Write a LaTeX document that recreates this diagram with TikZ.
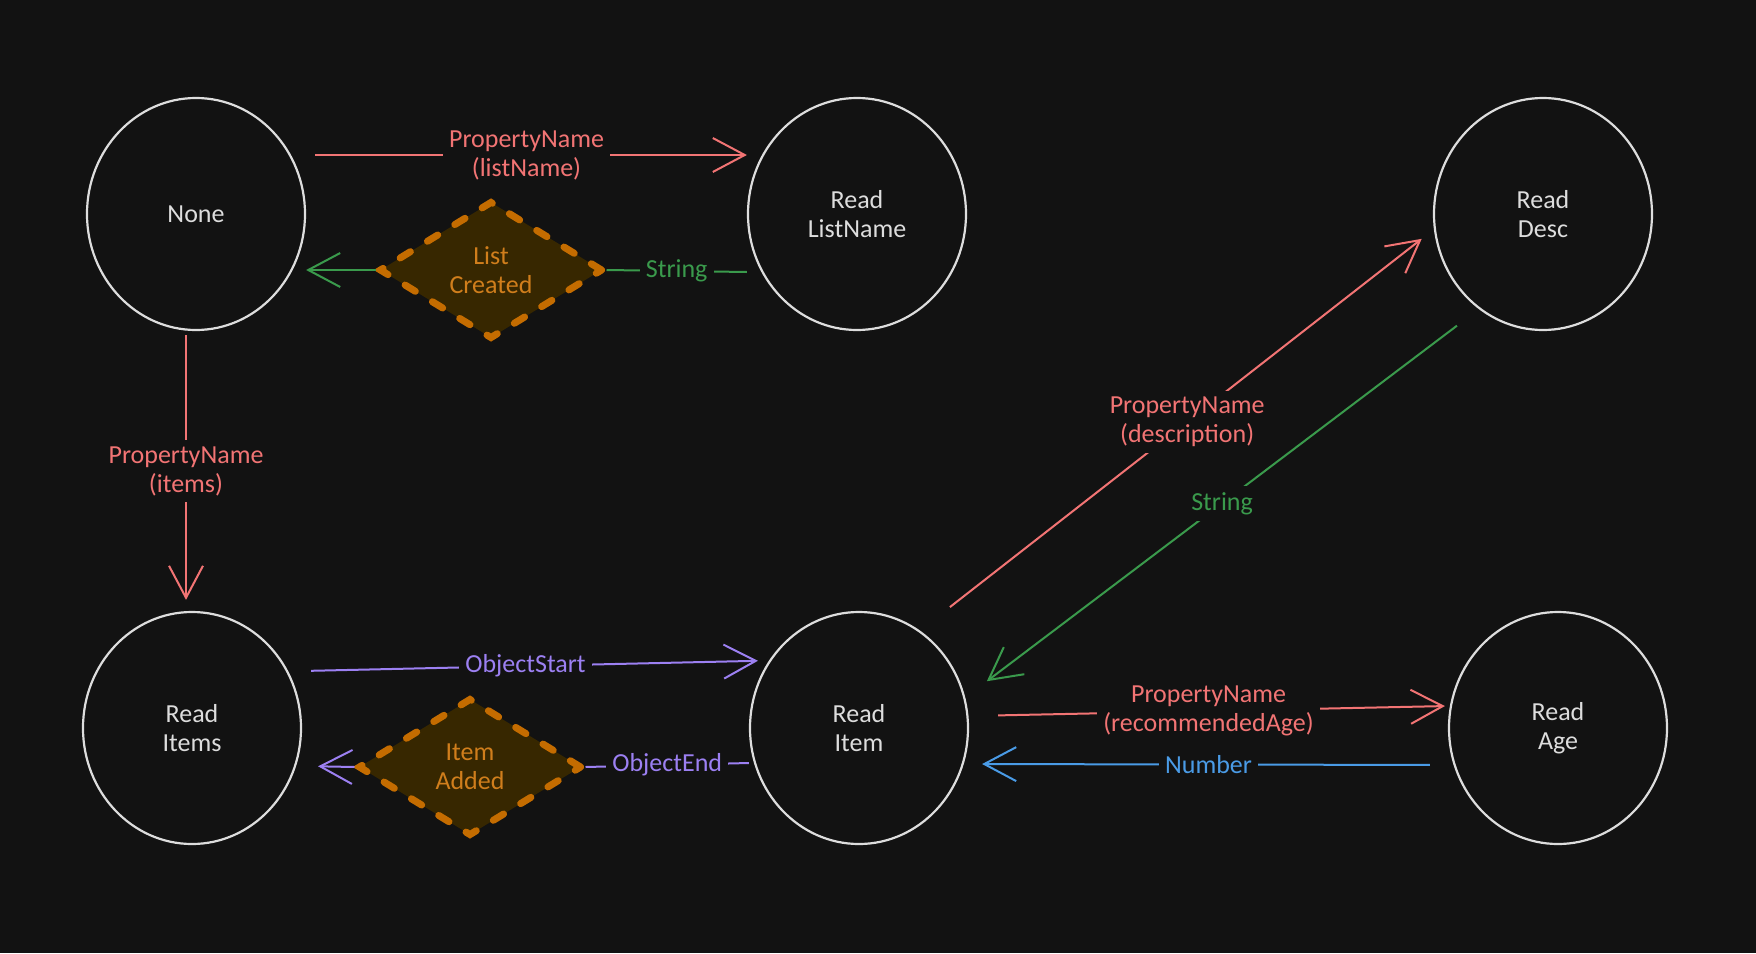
\documentclass[tikz,border=0pt]{standalone}
\usepackage{fontspec}
\setmainfont{Carlito}
\usepackage{tikz}
\usetikzlibrary{arrows.meta,shapes.geometric,positioning}

\definecolor{bg}{HTML}{121212}
\definecolor{chalk}{HTML}{DDDDDD}
\definecolor{pname}{HTML}{F27474}
\definecolor{strgreen}{HTML}{3A9A4C}
\definecolor{objpurple}{HTML}{9C80F2}
\definecolor{numblue}{HTML}{4A9BE6}
\definecolor{evline}{HTML}{C46C00}
\definecolor{evfill}{HTML}{372700}
\definecolor{evtext}{HTML}{D07E1C}

\begin{document}
\begin{tikzpicture}[x=0.5pt,y=-0.5pt,font=\fontsize{13}{14.5}\selectfont]
      \tikzstyle{state}=[ellipse,draw=chalk,line width=1.1pt,minimum width=109pt,minimum height=116pt,inner sep=0pt,text=chalk,align=center]
      \tikzstyle{event}=[diamond,draw=evline,fill=evfill,line width=3.5pt,dash pattern=on 6pt off 10pt,line cap=round,minimum width=112pt,minimum height=69pt,inner sep=0pt,text=evtext,align=center]
      \tikzstyle{lbl}=[fill=bg,inner sep=3pt,align=center]
      \tikzstyle{tr}=[line width=1pt,-{Straight Barb[length=16pt,width=17pt]}]
      \tikzstyle{seg}=[line width=1pt]

      \fill[bg] (0,0) rectangle (1756,953);
      \useasboundingbox (0,0) rectangle (1756,953);

      \node[state] (none) at (196,214) {None};
      \node[state] (listname) [node distance=330.5pt, right of=none] {Read\\ListName};
      \node[state] (desc) [node distance=343pt, right of=listname] {Read\\Desc};
      \node[state] (items) [node distance=257pt, below of=none, xshift=-2pt] {Read\\Items};
      \node[state] (item) [node distance=333.5pt, right of=items] {Read\\Item};
      \node[state] (age) [node distance=349.5pt, right of=item] {Read\\Age};
      \node[event] (listcreated) at (491,270) {List\\Created};
      \node[event] (itemadded) at (470,767) {Item\\Added};

      \draw[tr,pname,shorten <=4.5pt] ([yshift=29.5pt]none.east) -- ([yshift=29.5pt]listname.west) node[lbl,midway,text=pname]{PropertyName\\(listName)};
      \draw[seg,strgreen] ([yshift=-29pt]listname.west) -- (listcreated.east) node[lbl,midway,text=strgreen]{String};
      \draw[tr,strgreen] (listcreated.west) -- ([yshift=-28pt]none.east);
      \draw[tr,pname,shorten <=2pt,shorten >=5.5pt] ([xshift=-5pt]none.south) -- ([xshift=-3pt]items.north) node[lbl,midway,text=pname]{PropertyName\\(items)};

      \draw[tr,objpurple,shorten <=4.5pt,shorten >=-4.5pt] ([yshift=28.5pt]items.east) -- ([yshift=33.5pt]item.west) node[lbl,midway,text=objpurple]{ObjectStart};
      \draw[seg,objpurple] ([yshift=-17.5pt]item.west) -- (itemadded.east) node[lbl,midway,text=objpurple]{ObjectEnd};
      \draw[tr,objpurple,shorten >=8pt] (itemadded.west) -- ([yshift=-19pt]items.east);

      \draw[tr,pname,shorten <=19pt,shorten >=7.7pt] (item.58) -- (desc.188) node[lbl,pos=0.52,text=pname]{PropertyName\\(description)};
      \draw[tr,strgreen,shorten <=13.7pt,shorten >=13.5pt] (desc.236) -- (item.16) node[lbl,midway,text=strgreen]{String};
      \draw[tr,pname,shorten <=14.5pt,shorten >=1.5pt] ([yshift=6pt]item.east) -- ([yshift=11pt]age.west) node[lbl,midway,text=pname]{PropertyName\\(recommendedAge)};
      \draw[tr,numblue,shorten <=9pt,shorten >=6.5pt] ([yshift=-18.5pt]age.west) -- ([yshift=-18pt]item.east) node[lbl,midway,text=numblue]{Number};
\end{tikzpicture}
\end{document}
